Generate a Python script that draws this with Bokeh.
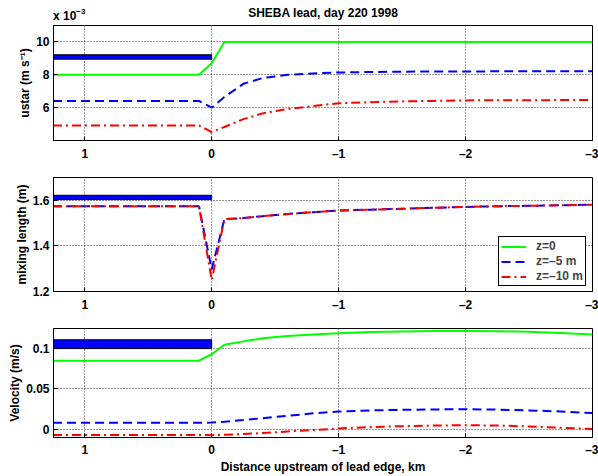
from bokeh.plotting import figure
from bokeh.models import Range1d, FixedTicker, Legend, LegendItem, Div
from bokeh.layouts import column
from bokeh.embed import file_html
from bokeh.resources import INLINE

# ---------------- data ----------------
x_km = [1.25, 0.1, 0.0, -0.1, -0.25, -0.4, -0.6, -0.8, -1.0, -1.25, -1.5, -1.75,
        -2.0, -2.25, -2.5, -2.75, -3.0]

# ustar (units of 1e-3 m/s)
ustar_z0 = [8.0, 8.0, 8.7, 10.0, 10.0, 10.0, 10.0, 10.0, 10.0, 10.0, 10.0, 10.0,
            10.0, 10.0, 10.0, 10.0, 10.0]
ustar_z5 = [6.41, 6.41, 6.0, 6.65, 7.45, 7.8, 8.0, 8.08, 8.14, 8.17, 8.19, 8.2,
            8.2, 8.21, 8.21, 8.22, 8.22]
ustar_z10 = [4.92, 4.92, 4.51, 4.82, 5.3, 5.65, 5.92, 6.1, 6.27, 6.33, 6.38, 6.41,
             6.44, 6.45, 6.45, 6.46, 6.46]

# mixing length (m); the z=0 curve is not visible in this panel (no data in range)
NAN = float("nan")
mix_z0 = [NAN] * len(x_km)
mix_z5 = [1.574, 1.574, 1.297, 1.517, 1.522, 1.53, 1.54, 1.548, 1.555, 1.559, 1.563,
          1.567, 1.571, 1.574, 1.576, 1.578, 1.581]
mix_z10 = [1.574, 1.574, 1.25, 1.517, 1.522, 1.53, 1.54, 1.548, 1.555, 1.559, 1.563,
           1.567, 1.571, 1.574, 1.576, 1.578, 1.581]

# velocity (m/s)
vel_z0 = [0.085, 0.085, 0.093, 0.1048, 0.109, 0.1128, 0.1158, 0.1176, 0.119, 0.1205,
          0.1214, 0.1219, 0.122, 0.1217, 0.121, 0.1195, 0.1175]
vel_z5 = [0.0079, 0.0079, 0.008, 0.0092, 0.0113, 0.0135, 0.0165, 0.0195, 0.0218,
          0.0232, 0.0239, 0.0244, 0.0246, 0.0242, 0.0232, 0.0218, 0.0199]
vel_z10 = [-0.0074, -0.0074, -0.0076, -0.0071, -0.0062, -0.005, -0.003, -0.0012,
           0.0007, 0.0025, 0.0036, 0.0043, 0.0048, 0.0044, 0.0032, 0.0017, 0.0]

# lead bar (over the lead, x from left edge to 0)
bar_left = [1.25]
bar_right = [0.0]
bar_ustar = [8.95, 9.22]
bar_mix = [1.603, 1.622]
bar_vel = [0.1, 0.111]

x_ticks = [1, 0, -1, -2, -3]
x_tick_labels = ["1", "0", "\u20131", "\u20132", "\u20133"]
ustar_ticks = [6, 8, 10]
mix_ticks = [1.2, 1.4, 1.6]
vel_ticks = [0, 0.05, 0.1]
vel_tick_labels = ["0", "0.05", "0.1"]

legend_labels = ["z=0", "z=\u20135 m", "z=\u201310 m"]
title_text = "SHEBA lead, day 220 1998"

FONT = "Liberation Sans"
FS = "12px"
GREEN = "#00ff00"
BLUE = "#0000ff"
RED = "#ff0000"
DASH = "9 5"
DASHDOT = "9 4 2 4"
W = 598


def style_axis(ax, ticks, overrides=None, standoff=4):
    ax.ticker = FixedTicker(ticks=ticks)
    ax.axis_line_color = "black"
    ax.axis_line_width = 1
    ax.major_tick_line_color = "black"
    ax.major_tick_in = 4
    ax.major_tick_out = 0
    ax.minor_tick_line_color = None
    ax.major_label_text_font = FONT
    ax.major_label_text_font_style = "bold"
    ax.major_label_text_font_size = FS
    ax.major_label_text_color = "black"
    ax.major_label_standoff = standoff
    ax.axis_label_text_font = FONT
    ax.axis_label_text_font_style = "bold"
    ax.axis_label_text_font_size = FS
    ax.axis_label_text_color = "black"
    ax.axis_label_standoff = 1
    if overrides:
        ax.major_label_overrides = overrides


def make_fig(height, top, bottom, yr, yticks, ylabel, yoverrides=None, xlabel=None,
             xstandoff=6):
    p = figure(width=W, height=height, x_range=Range1d(1.246, -3.0),
               y_range=Range1d(*yr), output_backend="svg", toolbar_location=None,
               tools="", min_border_left=53, min_border_right=6,
               min_border_top=top, min_border_bottom=bottom)
    p.outline_line_color = "black"
    p.outline_line_alpha = 1
    p.outline_line_width = 1
    p.background_fill_color = "white"
    p.border_fill_color = "white"
    style_axis(p.xaxis[0], x_ticks, dict(zip(x_ticks, x_tick_labels)), xstandoff)
    style_axis(p.yaxis[0], yticks, yoverrides)
    p.yaxis[0].axis_label = ylabel
    if xlabel:
        p.xaxis[0].axis_label = xlabel
        p.xaxis[0].axis_label_standoff = 0
    for g in (p.xgrid[0], p.ygrid[0]):
        g.grid_line_color = "black"
        g.grid_line_alpha = 0.8
        g.grid_line_dash = "1 2"
        g.grid_line_width = 1
    return p


# ---------------- header (title and exponent) ----------------
header = Div(
    text=(
        '<div style="position:relative;width:%dpx;height:23px;'
        'font-family:\'Liberation Sans\',Arial,sans-serif;font-weight:bold;color:black;">'
        '<span style="position:absolute;left:53px;top:10px;font-size:12px;line-height:12px;'
        'white-space:nowrap;">x 10<span style="position:relative;top:-6px;font-size:8px;">'
        '\u22123</span></span>'
        '<span style="position:absolute;left:173px;width:300px;top:7px;text-align:center;'
        'font-size:12px;line-height:12px;white-space:nowrap;">%s</span>'
        '</div>'
    ) % (W, title_text),
    width=W, height=23, margin=0,
)

# ---------------- top: ustar ----------------
p1 = make_fig(142, 2, 25, (4.0, 11.0), ustar_ticks, "ustar (m s\u207b\u00b9)")
p1.quad(left=bar_left, right=bar_right, bottom=[bar_ustar[0]], top=[bar_ustar[1]],
        fill_color=BLUE, line_color="black", line_width=1)
p1.line(x_km, ustar_z0, color=GREEN, line_width=2)
p1.line(x_km, ustar_z5, color=BLUE, line_width=2, line_dash=DASH)
p1.line(x_km, ustar_z10, color=RED, line_width=2, line_dash=DASHDOT)

# ---------------- middle: mixing length ----------------
p2 = make_fig(153, 12, 27, (1.2, 1.7), mix_ticks, "mixing length (m)")
p2.quad(left=bar_left, right=bar_right, bottom=[bar_mix[0]], top=[bar_mix[1]],
        fill_color=BLUE, line_color="black", line_width=1)
rg = p2.line(x_km, mix_z0, color=GREEN, line_width=2)
rb = p2.line(x_km, mix_z5, color=BLUE, line_width=2, line_dash=DASH)
rr = p2.line(x_km, mix_z10, color=RED, line_width=2, line_dash=DASHDOT)
leg = Legend(items=[LegendItem(label=legend_labels[0], renderers=[rg], index=0),
                    LegendItem(label=legend_labels[1], renderers=[rb]),
                    LegendItem(label=legend_labels[2], renderers=[rr])],
             location=(445, 5))
leg.margin = 0
leg.padding = 2
leg.spacing = 1
leg.label_height = 13
leg.glyph_height = 13
leg.glyph_width = 25
leg.label_standoff = 10
leg.label_text_font = FONT
leg.label_text_font_style = "bold"
leg.label_text_font_size = FS
leg.border_line_color = "black"
leg.border_line_alpha = 1
leg.border_line_width = 1
leg.background_fill_color = "white"
leg.background_fill_alpha = 1
p2.add_layout(leg)

# ---------------- bottom: velocity ----------------
p3 = make_fig(158, 10, 33, (-0.0105, 0.125), vel_ticks, "Velocity (m/s)",
              yoverrides=dict(zip(vel_ticks, vel_tick_labels)),
              xlabel="Distance upstream of lead edge, km", xstandoff=5)
p3.quad(left=bar_left, right=bar_right, bottom=[bar_vel[0]], top=[bar_vel[1]],
        fill_color=BLUE, line_color="black", line_width=1)
p3.line(x_km, vel_z0, color=GREEN, line_width=2)
p3.line(x_km, vel_z5, color=BLUE, line_width=2, line_dash=DASH)
p3.line(x_km, vel_z10, color=RED, line_width=2, line_dash=DASHDOT)

layout = column(header, p1, p2, p3, spacing=0)
open("out.html", "w").write(file_html(layout, INLINE))
